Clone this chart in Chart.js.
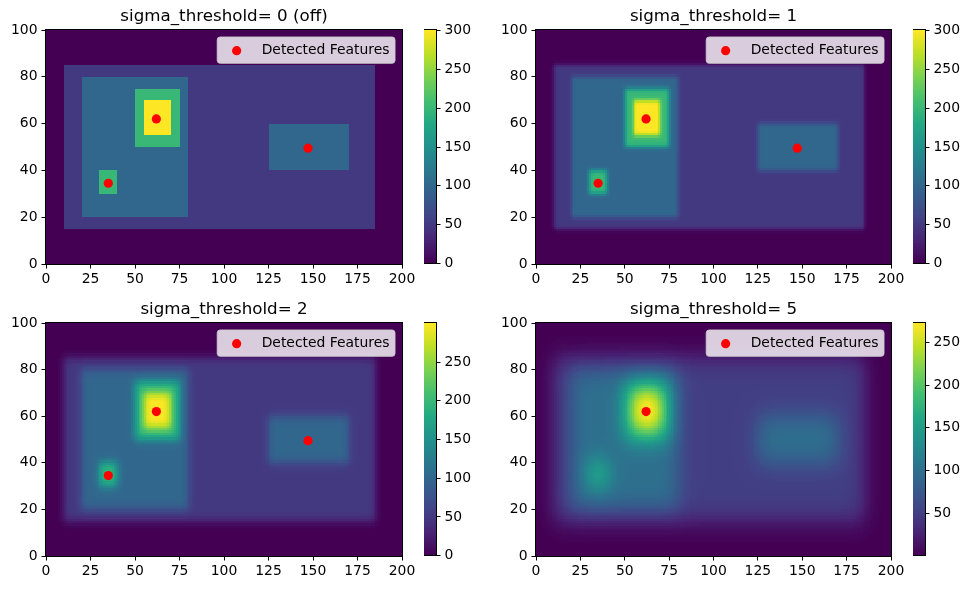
<!DOCTYPE html>
<html>
<head>
<meta charset="utf-8">
<script src="https://cdn.jsdelivr.net/npm/chart.js@4.4.1/dist/chart.umd.min.js"></script>
<style>
body{margin:0;background:#fff;}
#fig{position:relative;width:971px;height:590px;overflow:hidden;}
#fig canvas{position:absolute;}
</style>
</head>
<body>
<div id="fig"></div>
<script>
// image size (columns x rows)
const gridW = 200;
const gridH = 100;

// rectangles painted into the image, in this order (data units)
const rectX0 = [10, 20, 50, 55, 30, 125];
const rectX1 = [185, 80, 75, 70, 40, 170];
const rectY0 = [15, 20, 50, 55, 30, 40];
const rectY1 = [85, 80, 75, 70, 40, 60];
const rectVal = [50, 100, 200, 300, 200, 100];

// one panel per smoothing sigma
const panelTitles = ['sigma_threshold= 0 (off)', 'sigma_threshold= 1', 'sigma_threshold= 2', 'sigma_threshold= 5'];
const panelSigma = [0, 1, 2, 5];

// detected features per panel
const featX = [[35, 62, 147.2], [35, 62, 147.2], [35, 62, 147.2], [62]];
const featY = [[34.5, 62, 49.5], [34.5, 62, 49.5], [34.5, 62, 49.5], [62]];
const featLabel = 'Detected Features';

// tick labels
const xTicks = [0, 25, 50, 75, 100, 125, 150, 175, 200];
const yTicks = [0, 20, 40, 60, 80, 100];
const cbarTicks = [0, 50, 100, 150, 200, 250, 300];

// layout (pixels)
const areaLeft = [46, 536, 46, 536];
const areaTop = [30, 30, 323, 323];
const areaW = [356, 355, 356, 355];
const areaH = [234, 234, 233, 233];
const cbLeft = [424, 913, 424, 913];
const cbW = 12;
const yAxisW = 46, xAxisH = 26, titleH = 30;

const FONT = 'DejaVu Sans';

// viridis colormap
const viridisStops = ['#440154','#482475','#414487','#355f8d','#2a788e','#21918c','#22a884','#44bf70','#7ad151','#bddf26','#fde725'];
const lut = [];
(function(){
  const rgb = viridisStops.map(h => [1,3,5].map(k => parseInt(h.substr(k,2),16)));
  for (let i = 0; i < 256; i++) {
    const t = i / 255 * 10;
    const k = Math.min(9, Math.floor(t));
    const f = t - k;
    const c = [0,1,2].map(n => Math.round(rgb[k][n] + (rgb[k+1][n] - rgb[k][n]) * f));
    lut.push('rgb(' + c.join(',') + ')');
  }
})();
function cmap(v, lo, hi) {
  let i = Math.floor((v - lo) / (hi - lo) * 256);
  if (i < 0) i = 0;
  if (i > 255) i = 255;
  return lut[i];
}

// build the image from the rectangles
function baseImage() {
  const img = new Float64Array(gridW * gridH);
  for (let r = 0; r < rectVal.length; r++) {
    for (let j = rectY0[r]; j < rectY1[r]; j++)
      for (let i = rectX0[r]; i < rectX1[r]; i++)
        img[j * gridW + i] = rectVal[r];
  }
  return img;
}

// gaussian smoothing (reflect edges)
function smooth(img, sigma) {
  if (!sigma) return img;
  const rad = Math.floor(4 * sigma + 0.5);
  const kern = [];
  let s = 0;
  for (let k = -rad; k <= rad; k++) { const w = Math.exp(-0.5 * k * k / (sigma * sigma)); kern.push(w); s += w; }
  for (let k = 0; k < kern.length; k++) kern[k] /= s;
  const refl = (i, n) => { while (i < 0 || i >= n) { if (i < 0) i = -i - 1; if (i >= n) i = 2 * n - i - 1; } return i; };
  const tmp = new Float64Array(img.length), out = new Float64Array(img.length);
  for (let j = 0; j < gridH; j++)
    for (let i = 0; i < gridW; i++) {
      let acc = 0;
      for (let k = -rad; k <= rad; k++) acc += kern[k + rad] * img[j * gridW + refl(i + k, gridW)];
      tmp[j * gridW + i] = acc;
    }
  for (let j = 0; j < gridH; j++)
    for (let i = 0; i < gridW; i++) {
      let acc = 0;
      for (let k = -rad; k <= rad; k++) acc += kern[k + rad] * tmp[refl(j + k, gridH) * gridW + i];
      out[j * gridW + i] = acc;
    }
  return out;
}

// heatmap cells, drawn through the chart scales
const heatmapPlugin = {
  id: 'heatmap',
  beforeDraw(chart, args, opts) {
    if (!opts.grid) return;
    const ctx = chart.ctx, x = chart.scales.x, y = chart.scales.y;
    const xs = [], ys = [];
    for (let i = 0; i <= gridW; i++) xs.push(Math.round(x.getPixelForValue(i)));
    for (let j = 0; j <= gridH; j++) ys.push(Math.round(y.getPixelForValue(j)));
    ctx.save();
    for (let j = 0; j < gridH; j++)
      for (let i = 0; i < gridW; i++) {
        ctx.fillStyle = cmap(opts.grid[j * gridW + i], opts.vmin, opts.vmax);
        ctx.fillRect(xs[i], ys[j + 1], xs[i + 1] - xs[i], ys[j] - ys[j + 1]);
      }
    ctx.restore();
  },
  afterDraw(chart) {
    const a = chart.chartArea, ctx = chart.ctx;
    ctx.save();
    ctx.strokeStyle = '#000';
    ctx.lineWidth = 1;
    ctx.strokeRect(Math.round(a.left) - 0.5, Math.round(a.top) - 0.5, Math.round(a.right - a.left) + 1, Math.round(a.bottom - a.top) + 1);
    ctx.restore();
  }
};

// matplotlib-like legend box in the upper right
const boxLegendPlugin = {
  id: 'boxLegend',
  afterDatasetsDraw(chart) {
    const ds = chart.data.datasets[0];
    const ctx = chart.ctx, a = chart.chartArea;
    const fs = 13.9, pad = 0.4 * fs;
    ctx.save();
    ctx.font = fs + 'px "' + FONT + '"';
    const tw = ctx.measureText(ds.label).width;
    const w = 2 * pad + 2.8 * fs + tw, h = 2 * pad + 1.1 * fs;
    const left = a.right - 0.5 * fs - w, top = a.top + 0.5 * fs;
    ctx.beginPath();
    ctx.roundRect(left, top, w, h, 3);
    ctx.fillStyle = 'rgba(255,255,255,0.8)';
    ctx.fill();
    ctx.strokeStyle = 'rgba(204,204,204,0.8)';
    ctx.lineWidth = 1;
    ctx.stroke();
    ctx.beginPath();
    ctx.arc(left + pad + fs, top + h / 2 + 0.5, ds.pointRadius, 0, Math.PI * 2);
    ctx.fillStyle = ds.backgroundColor;
    ctx.fill();
    ctx.fillStyle = '#000';
    ctx.textBaseline = 'alphabetic';
    ctx.fillText(ds.label, left + pad + 2.8 * fs, top + h / 2 + 4);
    ctx.restore();
  }
};

// colorbar: one pixel row at a time, colour read back from the scale
const cbarPlugin = {
  id: 'cbar',
  beforeDraw(chart, args, opts) {
    if (opts.vmax === undefined) return;
    const ctx = chart.ctx, a = chart.chartArea, y = chart.scales.y;
    const t = Math.round(a.top), b = Math.round(a.bottom);
    const l = Math.round(a.left), r = Math.round(a.right);
    ctx.save();
    for (let py = t; py < b; py++) {
      ctx.fillStyle = cmap(y.getValueForPixel(py + 0.5), opts.vmin, opts.vmax);
      ctx.fillRect(l, py, r - l, 1);
    }
    ctx.restore();
  },
  afterDraw(chart) {
    const a = chart.chartArea, ctx = chart.ctx;
    ctx.save();
    ctx.strokeStyle = '#000';
    ctx.lineWidth = 1;
    ctx.strokeRect(Math.round(a.left) - 0.5, Math.round(a.top) - 0.5, Math.round(a.right - a.left) + 1, Math.round(a.bottom - a.top) + 1);
    ctx.restore();
  }
};

function tickSetter(list, lo, hi) {
  return function(scale) {
    scale.ticks = list.filter(v => v >= lo - 1e-6 && v <= hi + 1e-6).map(v => ({ value: v }));
  };
}

const tickFont = { family: FONT, size: 13.9 };
const fig = document.getElementById('fig');
const base = baseImage();

for (let p = 0; p < 4; p++) {
  const grid = smooth(base, panelSigma[p]);
  let vmin = Infinity, vmax = -Infinity;
  for (let k = 0; k < grid.length; k++) { if (grid[k] < vmin) vmin = grid[k]; if (grid[k] > vmax) vmax = grid[k]; }

  // main image panel
  const cv = document.createElement('canvas');
  const cw = yAxisW + areaW[p] + yAxisW, ch = titleH + areaH[p] + xAxisH;
  cv.style.left = (areaLeft[p] - yAxisW) + 'px';
  cv.style.top = (areaTop[p] - titleH) + 'px';
  cv.style.width = cw + 'px';
  cv.style.height = ch + 'px';
  cv.width = cw; cv.height = ch;
  fig.appendChild(cv);

  const pts = featX[p].map((v, i) => ({ x: v, y: featY[p][i] }));
  new Chart(cv, {
    type: 'scatter',
    data: {
      datasets: [{
        label: featLabel,
        data: pts,
        backgroundColor: 'red',
        borderWidth: 0,
        pointRadius: 4.6,
        pointHoverRadius: 4.6
      }]
    },
    options: {
      responsive: false,
      animation: false,
      events: [],
      layout: { padding: { left: 0, right: yAxisW, top: 0, bottom: 0 } },
      scales: {
        x: {
          type: 'linear', min: 0, max: 200,
          afterBuildTicks: tickSetter(xTicks, 0, 200),
          afterFit: s => { s.height = xAxisH; },
          grid: { display: true, drawOnChartArea: false, drawTicks: true, tickLength: 4.5, tickColor: '#000', tickWidth: 1 },
          border: { display: false },
          ticks: { font: tickFont, color: '#000', padding: 3, maxRotation: 0, autoSkip: false }
        },
        y: {
          type: 'linear', min: 0, max: 100,
          afterBuildTicks: tickSetter(yTicks, 0, 100),
          afterFit: s => { s.width = yAxisW; },
          grid: { display: true, drawOnChartArea: false, drawTicks: true, tickLength: 4.5, tickColor: '#000', tickWidth: 1 },
          border: { display: false },
          ticks: { font: tickFont, color: '#000', padding: 4, autoSkip: false }
        }
      },
      plugins: {
        legend: { display: false },
        tooltip: { enabled: false },
        title: {
          display: true,
          fullSize: false,
          text: panelTitles[p],
          color: '#000',
          font: { family: FONT, size: 16.7, weight: 'normal', lineHeight: '20px' },
          padding: { top: 7, bottom: 3 }
        },
        heatmap: { grid: grid, vmin: vmin, vmax: vmax }
      }
    },
    plugins: [heatmapPlugin, boxLegendPlugin]
  });

  // colorbar
  const cb = document.createElement('canvas');
  const cbPad = 12, cbAxisW = 46;
  const bw = cbW + cbAxisW, bh = areaH[p] + 2 * cbPad;
  cb.style.left = cbLeft[p] + 'px';
  cb.style.top = (areaTop[p] - cbPad) + 'px';
  cb.style.width = bw + 'px';
  cb.style.height = bh + 'px';
  cb.width = bw; cb.height = bh;
  fig.appendChild(cb);

  new Chart(cb, {
    type: 'scatter',
    data: { datasets: [{ data: [] }] },
    options: {
      responsive: false,
      animation: false,
      events: [],
      layout: { padding: { left: 0, right: 0, top: cbPad, bottom: cbPad } },
      scales: {
        x: { display: false, min: 0, max: 1 },
        y: {
          type: 'linear', position: 'right', min: vmin, max: vmax,
          afterBuildTicks: tickSetter(cbarTicks, vmin, vmax),
          afterFit: s => { s.width = cbAxisW; },
          grid: { display: true, drawOnChartArea: false, drawTicks: true, tickLength: 4.5, tickColor: '#000', tickWidth: 1 },
          border: { display: false },
          ticks: { font: tickFont, color: '#000', padding: 4, autoSkip: false }
        }
      },
      plugins: {
        legend: { display: false },
        tooltip: { enabled: false },
        cbar: { vmin: vmin, vmax: vmax }
      }
    },
    plugins: [cbarPlugin]
  });
}
</script>
</body>
</html>
